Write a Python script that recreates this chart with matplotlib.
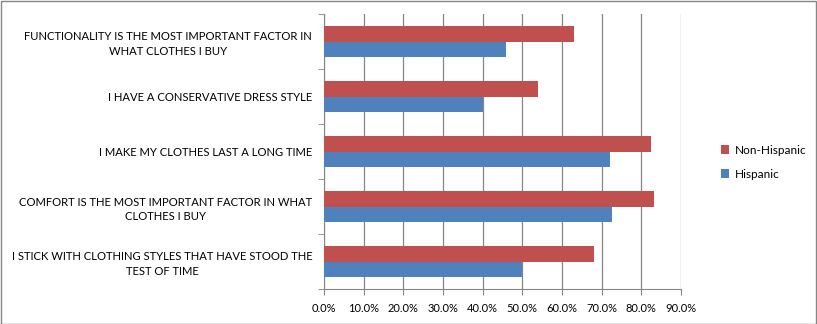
import numpy as np
import matplotlib.pyplot as plt
from matplotlib.patches import Rectangle
from matplotlib.ticker import FuncFormatter, MultipleLocator

categories = [
    "FUNCTIONALITY IS THE MOST IMPORTANT FACTOR IN\nWHAT CLOTHES I BUY",
    "I HAVE A CONSERVATIVE DRESS STYLE",
    "I MAKE MY CLOTHES LAST A LONG TIME",
    "COMFORT IS THE MOST IMPORTANT FACTOR IN WHAT\nCLOTHES I BUY",
    "I STICK WITH CLOTHING STYLES THAT HAVE STOOD THE\nTEST OF TIME",
]
non_hispanic = [63.0, 54.0, 82.4, 83.1, 68.0]
hispanic = [46.0, 40.0, 72.0, 72.7, 50.0]

RED = "#c0504d"
BLUE = "#4f81bd"
GRID = "#868686"

plt.rcParams["font.family"] = ["Lato", "DejaVu Sans"]

fig = plt.figure(figsize=(8.17, 3.24), dpi=100)
ax = fig.add_axes([324 / 817, 1 - 289 / 324, (681 - 324) / 817, (289 - 14) / 324])

n = len(categories)
y = np.arange(n)[::-1].astype(float)
h = 0.29
ax.barh(y + h / 2, non_hispanic, height=h, color=RED, label="Non-Hispanic", zorder=3)
ax.barh(y - h / 2, hispanic, height=h, color=BLUE, label="Hispanic", zorder=3)

ax.set_xlim(0, 90)
ax.set_ylim(-0.5, n - 0.5)
ax.xaxis.set_major_locator(MultipleLocator(10))
ax.xaxis.set_major_formatter(FuncFormatter(lambda v, _: f"{v:.1f}%"))
ax.grid(axis="x", color=GRID, linewidth=0.9, zorder=0)

# category labels: right-aligned block, each line centred
ax.set_yticks(y)
ax.set_yticklabels(categories, ha="right", multialignment="center", linespacing=1.35)
ax.tick_params(axis="y", length=0, pad=8.5, labelsize=8.1, colors="black")
ax.set_yticks(np.arange(n + 1) - 0.5, minor=True)
ax.tick_params(axis="y", which="minor", length=4, color=GRID, direction="out")
ax.tick_params(axis="x", length=4, color=GRID, labelsize=8, pad=6)

for side in ("top", "right"):
    ax.spines[side].set_visible(False)
ax.spines["left"].set_color(GRID)
ax.spines["bottom"].set_color(GRID)

handles, labels = ax.get_legend_handles_labels()
fig.legend(handles, labels, loc="upper left", bbox_to_anchor=(716 / 817, 1 - 140 / 324),
           frameon=False, fontsize=8.5, handlelength=0.7, handleheight=0.7,
           handletextpad=0.5, labelspacing=1.1, borderaxespad=0)

fig.patches.append(Rectangle((0.5 / 817, 0.5 / 324), 1 - 1.5 / 817, 1 - 1.5 / 324,
                             transform=fig.transFigure, fill=False,
                             edgecolor=GRID, linewidth=1))

fig.savefig("out.png", dpi=100)
